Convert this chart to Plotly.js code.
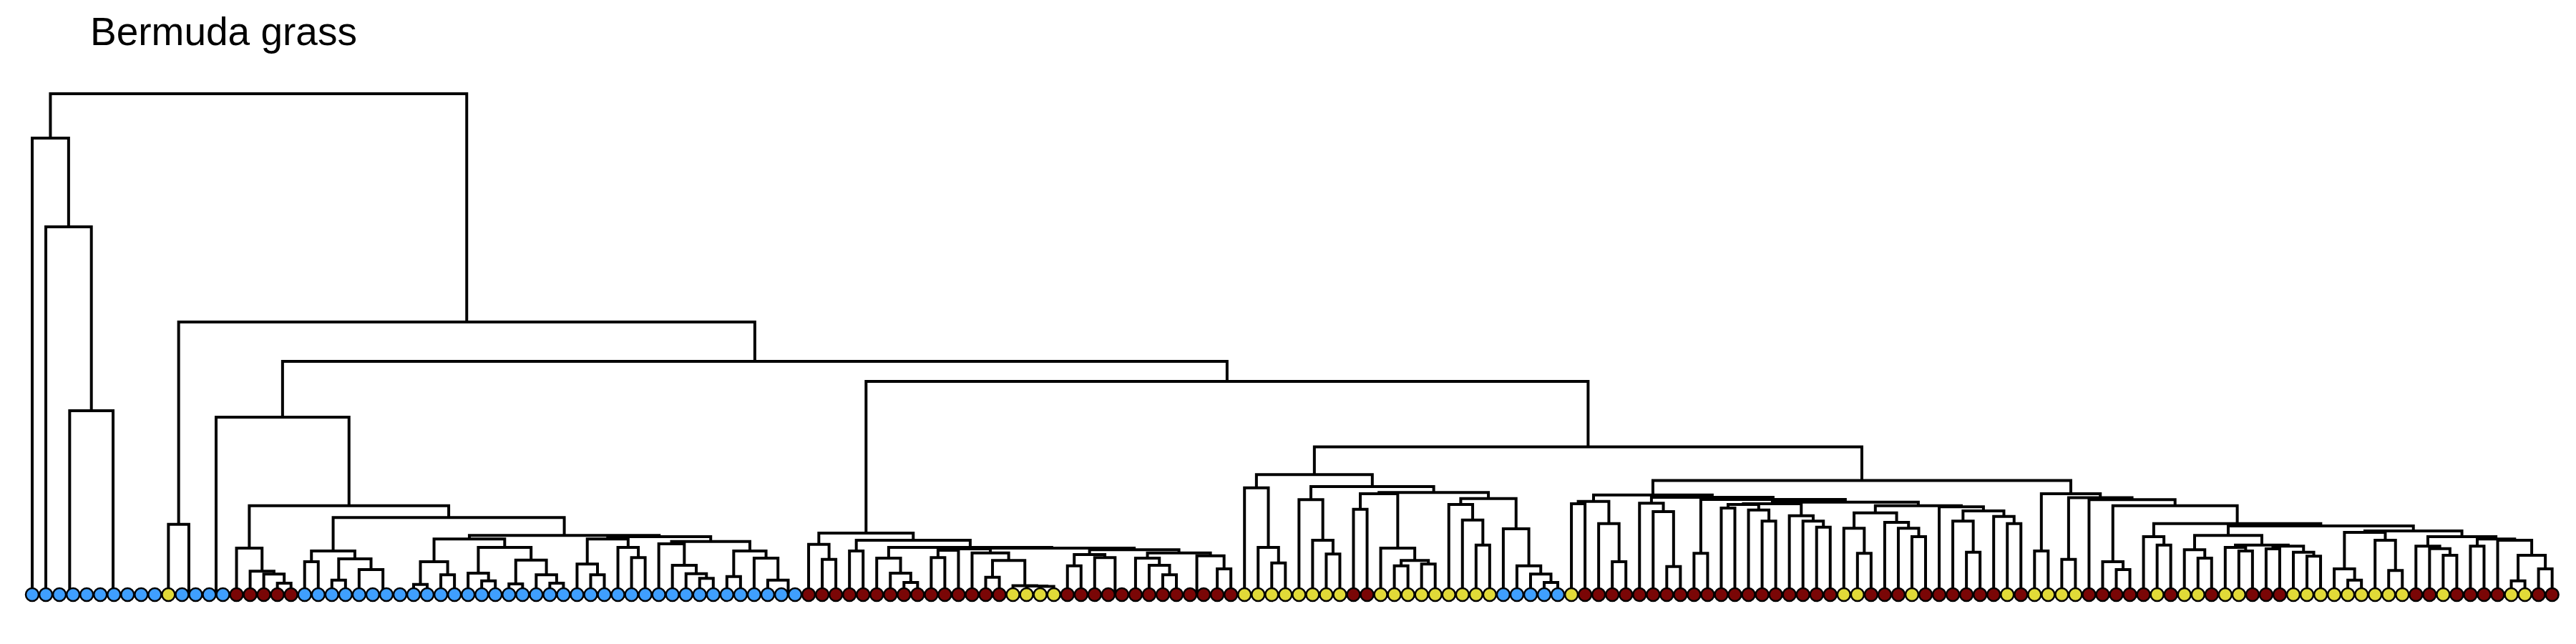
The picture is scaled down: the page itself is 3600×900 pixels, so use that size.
<!DOCTYPE html>
<html><head><meta charset="utf-8">
<script src="https://cdn.plot.ly/plotly-3.0.1.min.js"></script>
<style>html,body{margin:0;padding:0;background:#fff}</style>
</head><body>
<div id="chart" style="width:3600px;height:900px"></div>
<script>
// Leaf groups in dendrogram order (B = blue, Y = yellow, R = dark red)
const leafGroups = [
"B","B","B","B","B","B","B","B","B","B","Y","B","B","B","B","R","R","R","R","R",
"B","B","B","B","B","B","B","B","B","B","B","B","B","B","B","B","B","B","B","B",
"B","B","B","B","B","B","B","B","B","B","B","B","B","B","B","B","B","R","R","R",
"R","R","R","R","R","R","R","R","R","R","R","R","Y","Y","Y","Y","R","R","R","R",
"R","R","R","R","R","R","R","R","R","Y","Y","Y","Y","Y","Y","Y","Y","R","R","Y",
"Y","Y","Y","Y","Y","Y","Y","Y","B","B","B","B","B","Y","R","R","R","R","R","R",
"R","R","R","R","R","R","R","R","R","R","R","R","R","Y","Y","R","R","R","Y","R",
"R","R","R","R","R","Y","R","Y","Y","Y","Y","R","R","R","R","R","Y","R","Y","Y",
"R","Y","Y","R","R","R","Y","Y","Y","Y","Y","Y","Y","Y","Y","R","R","Y","R","R",
"R","R","Y","Y","R","R"];

// Height at which leaf i joins leaf i+1 (cophenetic height between neighbours)
const mergeHeights = [
638,514,0.2,0.1,257,0.4,0.3,0.2,0.1,700,
98.3,0.1,381,0.1,248,65,32.7,28.7,16,124.3,
46,61,20.3,50,35,0.2,0.1,107.7,14.3,46,
27.7,77.7,30,19.3,66,15,48.3,27.7,16,82.7,
42.7,27.7,77.7,66,51.7,81,71,41,29.3,22.7,
74.3,25.3,61,51,20.3,0.1,326,70.3,49.3,86,
61,76,51,30,17,66,51.7,62,64,58.3,
24.3,47.7,12.5,12,11.5,65,40.3,56,51.7,0.1,
62.7,51,41,27.7,58.3,0.1,54.3,36,298,149.3,
66,44.3,167.7,132.7,76,56.7,151,119.3,141,65,
40.3,47.7,42.7,142.7,126,104.3,69.3,134.3,92,40.3,
28.7,17,206.5,127,130.3,99.3,46,139.3,127.7,116,
39.3,136,57.7,133,121,126,118.3,102.7,127,110.3,
102.7,94.3,129.3,92.7,57.7,114.3,101,92.7,81,124.3,
122.7,102.7,59.3,117,109.3,99.3,159.5,61,141,49.3,
135.5,132.7,46,35,124.3,81,69.3,99.3,62.7,51,
82.7,66,61,69.3,64,67.7,59.3,53.7,96,36,
20.3,87,76,33.7,89,67.7,64.3,55,81,67.7,
77.7,76,19.3,55,36];

const groupColors = {B: "#3f9fff", Y: "#e1da38", R: "#7a0606"};
const groupOrder = ["B", "Y", "R"];

const segX = [], segY = [];
function build(l, r) {
  if (l === r) return {x: l, h: 0};
  let k = l;
  for (let i = l + 1; i < r; i++) if (mergeHeights[i] > mergeHeights[k]) k = i;
  const a = build(l, k), b = build(k + 1, r);
  const h = mergeHeights[k];
  segX.push(a.x, a.x, b.x, b.x, null);
  segY.push(a.h, h, h, b.h, null);
  return {x: (a.x + b.x) / 2, h: h};
}
build(0, leafGroups.length - 1);

const traces = [{
  type: "scatter", mode: "lines", x: segX, y: segY,
  line: {color: "#000000", width: 4}, hoverinfo: "skip", showlegend: false
}];
groupOrder.forEach(g => {
  const xs = [], ys = [];
  leafGroups.forEach((v, i) => { if (v === g) { xs.push(i); ys.push(0); } });
  traces.push({
    type: "scatter", mode: "markers", x: xs, y: ys, showlegend: false,
    marker: {size: 18, color: groupColors[g], line: {color: "#000000", width: 2.5}},
    cliponaxis: false
  });
});

const layout = {
  width: 3600, height: 900,
  margin: {l: 0, r: 0, t: 0, b: 0},
  paper_bgcolor: "#ffffff", plot_bgcolor: "#ffffff",
  title: {text: "Bermuda grass", x: 126 / 3600, xanchor: "left", xref: "container",
          y: 1 - 44 / 900, yanchor: "middle", yref: "container",
          font: {family: "Liberation Sans, Arial, sans-serif", size: 55, color: "#000000"}},
  xaxis: {range: [-45 / 19.036, (3600 - 45) / 19.036], visible: false, fixedrange: true},
  yaxis: {range: [-69, 831], visible: false, fixedrange: true},
  showlegend: false
};
Plotly.newPlot("chart", traces, layout, {staticPlot: true});
</script>
</body></html>
